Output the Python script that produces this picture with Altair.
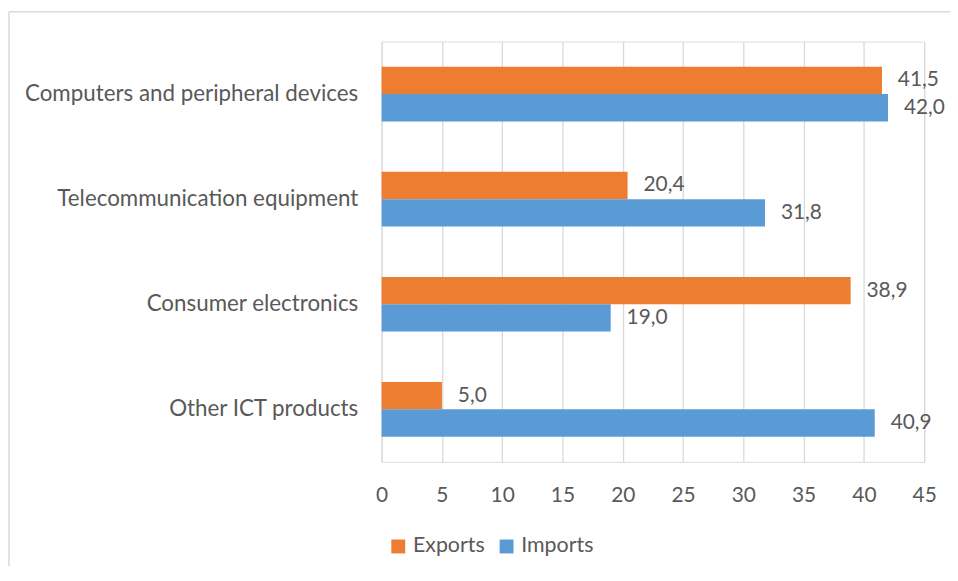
import altair as alt
import pandas as pd

categories = ["Computers and peripheral devices", "Telecommunication equipment",
              "Consumer electronics", "Other ICT products"]
exports = [41.5, 20.4, 38.9, 5.0]
imports = [42.0, 31.8, 19.0, 40.9]
series = ["Exports", "Imports"]
colors = ["#ED7D31", "#5B9BD5"]
ticks = [0, 5, 10, 15, 20, 25, 30, 35, 40, 45]

rows = []
for c, e, i in zip(categories, exports, imports):
    rows.append({"category": c, "series": "Exports", "value": e})
    rows.append({"category": c, "series": "Imports", "value": i})
df = pd.DataFrame(rows)

FONT = "Lato"
TXT = "#595959"
W, H = 546, 423
PL, PT, PR, PB = 376, 32, 26, 105

base = alt.Chart(df).transform_calculate(
    label="replace(format(datum.value, '.1f'), '.', ',')"
).encode(
    y=alt.Y("category:N", sort=categories, title=None,
            scale=alt.Scale(paddingInner=0.48, paddingOuter=0.24),
            axis=alt.Axis(domain=False, ticks=False, grid=False, labelPadding=24,
                          labelFontSize=22.5, labelColor=TXT, labelFont=FONT, labelLimit=400)),
    yOffset=alt.YOffset("series:N", sort=series),
    x=alt.X("value:Q", title=None, scale=alt.Scale(domain=[0, 45], nice=False),
            axis=alt.Axis(values=ticks, domain=False, ticks=False, grid=True,
                          gridColor="#D9D9D9", gridWidth=1.3, labelPadding=23,
                          labelFlush=False, labelOverlap=False,
                          labelFontSize=21, labelColor=TXT, labelFont=FONT)),
)

bars = base.mark_bar().encode(
    color=alt.Color("series:N", sort=series,
                    scale=alt.Scale(domain=series, range=colors),
                    legend=alt.Legend(title=None, orient="none", legendX=6, legendY=497,
                                      direction="horizontal", symbolType="square",
                                      symbolSize=196, symbolStrokeWidth=0,
                                      labelFontSize=21.5, labelColor=TXT, labelFont=FONT,
                                      labelOffset=4, columnPadding=11))
)

text = base.mark_text(align="left", baseline="middle", dx=16, fontSize=21,
                      color=TXT, font=FONT).encode(text="label:N")

frame_df = pd.DataFrame({"k": [0]})
top_rule = alt.Chart(frame_df).mark_rule(color="#D9D9D9", strokeWidth=1.5).encode(
    x=alt.value(-375), x2=alt.value(W + PR), y=alt.value(-30))
left_rule = alt.Chart(frame_df).mark_rule(color="#D9D9D9", strokeWidth=1.5).encode(
    x=alt.value(-375), y=alt.value(-30), y2=alt.value(H + PB))

chart = alt.layer(top_rule, left_rule, bars, text).properties(
    width=W, height=H,
    autosize=alt.AutoSizeParams(type="none"),
    padding={"left": PL, "top": PT, "right": PR, "bottom": PB},
).configure_view(strokeWidth=0).configure(background="white")

chart.save("out.html", embed_options={"renderer": "svg", "actions": False})
